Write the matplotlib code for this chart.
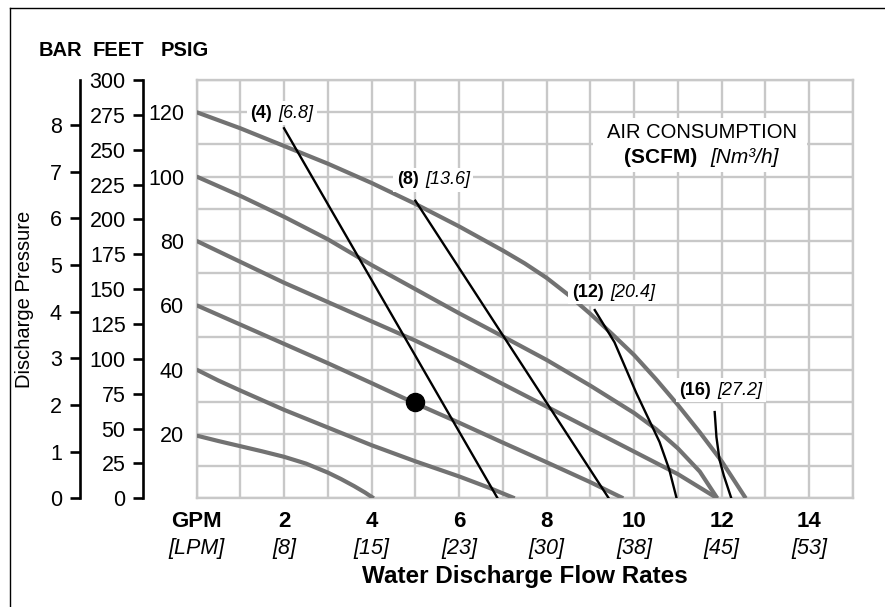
import matplotlib.pyplot as plt
from matplotlib.lines import Line2D
from matplotlib.patches import Rectangle
from matplotlib.transforms import blended_transform_factory

plt.rcParams['font.family'] = ['Liberation Sans', 'DejaVu Sans']

# performance curves, one per inlet air pressure (flow GPM -> discharge PSIG)
gpm_120 = [0, 1, 2, 3, 4, 5, 6, 7, 7.5, 8, 8.5, 9, 9.5, 10, 10.5, 11, 11.5, 12, 12.55]
psi_120 = [120, 115, 109.5, 104, 98, 91.5, 84.5, 77, 73, 68.5, 63.2, 57.3, 51, 44.5,
           37, 29, 20.5, 11.5, 0]
gpm_100 = [0, 1, 2, 3, 4, 5, 6, 7, 8, 9, 10, 10.5, 11, 11.5, 11.9]
psi_100 = [100, 94, 87.5, 80.5, 72.5, 65, 57.5, 50.3, 43, 35, 26.5, 21.5, 15.5, 8.3, 0]
gpm_80 = [0, 1, 2, 3, 4, 5, 6, 7, 8, 9, 10, 11, 11.9]
psi_80 = [80, 73.5, 67, 61, 55, 49, 42.5, 35.5, 28.5, 21.5, 14.5, 7.5, 0]
gpm_60 = [0, 1, 2, 3, 4, 5, 6, 7, 8, 9, 9.75]
psi_60 = [60, 54, 48, 42, 35.8, 29.5, 23.5, 17.3, 11.2, 5, 0]
gpm_40 = [0, 0.5, 1, 2, 3, 4, 5, 6, 6.7, 7.27]
psi_40 = [40, 36.6, 33.5, 27.5, 22, 16.5, 11.5, 6.8, 3.2, 0]
gpm_20 = [0, 0.5, 1, 1.5, 2, 2.5, 3, 3.3, 3.6, 3.85, 4.05]
psi_20 = [19.5, 17.8, 16.2, 14.6, 12.9, 10.8, 8.0, 6.0, 3.8, 1.8, 0]

# air consumption lines (SCFM)
scfm4_gpm = [2.0, 6.88]
scfm4_psi = [115, 0]
scfm8_gpm = [5.0, 9.42]
scfm8_psi = [92.5, 0]
scfm12_gpm = [9.1, 9.55, 10.05, 10.58, 10.8, 10.97]
scfm12_psi = [58.5, 48.5, 32.7, 17.5, 9, 0]
scfm16_gpm = [11.84, 11.88, 11.95, 12.05, 12.22]
scfm16_psi = [26.8, 19, 12, 7, 0]

scfm_labels = ['(4)', '(8)', '(12)', '(16)']
nm3h_labels = ['[6.8]', '[13.6]', '[20.4]', '[27.2]']
label_gpm = [1.72, 5.07, 9.3, 11.76]
label_psi = [119.7, 99, 64, 33.6]

op_gpm = [5]
op_psi = [30]

gpm_ticks = [0, 2, 4, 6, 8, 10, 12, 14]
gpm_labels = ['GPM', '2', '4', '6', '8', '10', '12', '14']
lpm_labels = ['[LPM]', '[8]', '[15]', '[23]', '[30]', '[38]', '[45]', '[53]']
psig_ticks = [20, 40, 60, 80, 100, 120]
feet_ticks = list(range(0, 301, 25))
bar_ticks = list(range(0, 9))

W, H = 885, 607
fig = plt.figure(figsize=(W / 100, H / 100), dpi=100)

left, right, top, bottom = 196.5, 853, 80, 498.3
ax = fig.add_axes([left / W, 1 - bottom / H, (right - left) / W, (bottom - top) / H])
ax.set_xlim(0, 15)
ax.set_ylim(0, 130)
grid_c = '#c8c8c8'
ax.set_xticks(range(16), minor=True)
ax.set_yticks(range(0, 131, 10), minor=True)
ax.grid(which='both', color=grid_c, lw=1.7, zorder=0)
ax.set_axisbelow(True)
for s in ax.spines.values():
    s.set_color(grid_c)
    s.set_linewidth(1.7)
ax.tick_params(which='both', length=0)
ax.set_xticks(gpm_ticks)
ax.set_xticklabels(gpm_labels, fontsize=16, fontweight='bold')
ax.tick_params(axis='x', pad=9)
ax.set_yticks(psig_ticks)
ax.set_yticklabels([str(v) for v in psig_ticks], fontsize=15.5)
ax.tick_params(axis='y', pad=9)

trans = blended_transform_factory(ax.transData, ax.transAxes)
for x, lab in zip(gpm_ticks, lpm_labels):
    ax.text(x, -0.121, lab, transform=trans, ha='center', va='center',
            fontsize=15.5, fontstyle='italic')

gray = '#727272'
for gx, py in [(gpm_120, psi_120), (gpm_100, psi_100), (gpm_80, psi_80),
               (gpm_60, psi_60), (gpm_40, psi_40), (gpm_20, psi_20)]:
    ax.plot(gx, py, color=gray, lw=3, solid_capstyle='butt',
            solid_joinstyle='round', zorder=3)

for gx, py in [(scfm4_gpm, scfm4_psi), (scfm8_gpm, scfm8_psi),
               (scfm12_gpm, scfm12_psi), (scfm16_gpm, scfm16_psi)]:
    ax.plot(gx, py, color='black', lw=1.7, solid_joinstyle='round', zorder=4)

ax.plot(op_gpm, op_psi, 'o', color='black', ms=13, zorder=5)

box = dict(fc='white', ec='none', pad=2.5)
for b, i, x, y in zip(scfm_labels, nm3h_labels, label_gpm, label_psi):
    ax.text(x, y, b, ha='right', va='center', fontsize=13, fontweight='bold',
            bbox=box, zorder=6)
    ax.text(x + 0.15, y, i, ha='left', va='center', fontsize=13,
            fontstyle='italic', bbox=box, zorder=6)

ax.add_patch(Rectangle((9.05, 101.3), 4.9, 17, fc='white', ec='none', zorder=2))
ax.text(11.55, 113.6, 'AIR CONSUMPTION', ha='center', va='center', fontsize=14.5, zorder=6)
ax.text(11.45, 105.8, '(SCFM)', ha='right', va='center', fontsize=15,
        fontweight='bold', zorder=6)
ax.text(11.75, 105.8, '[Nm³/h]', ha='left', va='center', fontsize=15,
        fontstyle='italic', zorder=6)

# extra pressure scales on the left
def side_axis(xpix, top_val, ticks, pad):
    a = fig.add_axes([xpix / W, 1 - bottom / H, 0.0001, (bottom - top) / H])
    a.set_ylim(0, top_val)
    a.patch.set_visible(False)
    for k in ['right', 'top', 'bottom']:
        a.spines[k].set_visible(False)
    a.spines['left'].set_linewidth(1.9)
    a.set_xticks([])
    a.set_yticks(ticks)
    a.set_yticklabels([str(t) for t in ticks], fontsize=15.5)
    a.tick_params(axis='y', direction='out', length=7, width=1.9, pad=pad)
    return a

side_axis(143, 130 / 0.4335, feet_ticks, 5.5)
side_axis(80, 130 / 14.5038, bar_ticks, 6)

for x, s in [(60, 'BAR'), (118, 'FEET'), (185, 'PSIG')]:
    fig.text(x / W, 1 - 50 / H, s, ha='center', va='center', fontsize=14.5,
             fontweight='bold')

fig.text(525 / W, 1 - 577 / H, 'Water Discharge Flow Rates', ha='center',
         va='center', fontsize=17.5, fontweight='bold')
fig.text(25 / W, 1 - 299 / H, 'Discharge Pressure', ha='center', va='center',
         rotation=90, fontsize=14.5)

fig.add_artist(Line2D([10 / W, 10 / W], [0, 1 - 8 / H], color='black', lw=1))
fig.add_artist(Line2D([10 / W, 1], [1 - 8 / H, 1 - 8 / H], color='black', lw=1))

fig.savefig('out.png', dpi=100)
